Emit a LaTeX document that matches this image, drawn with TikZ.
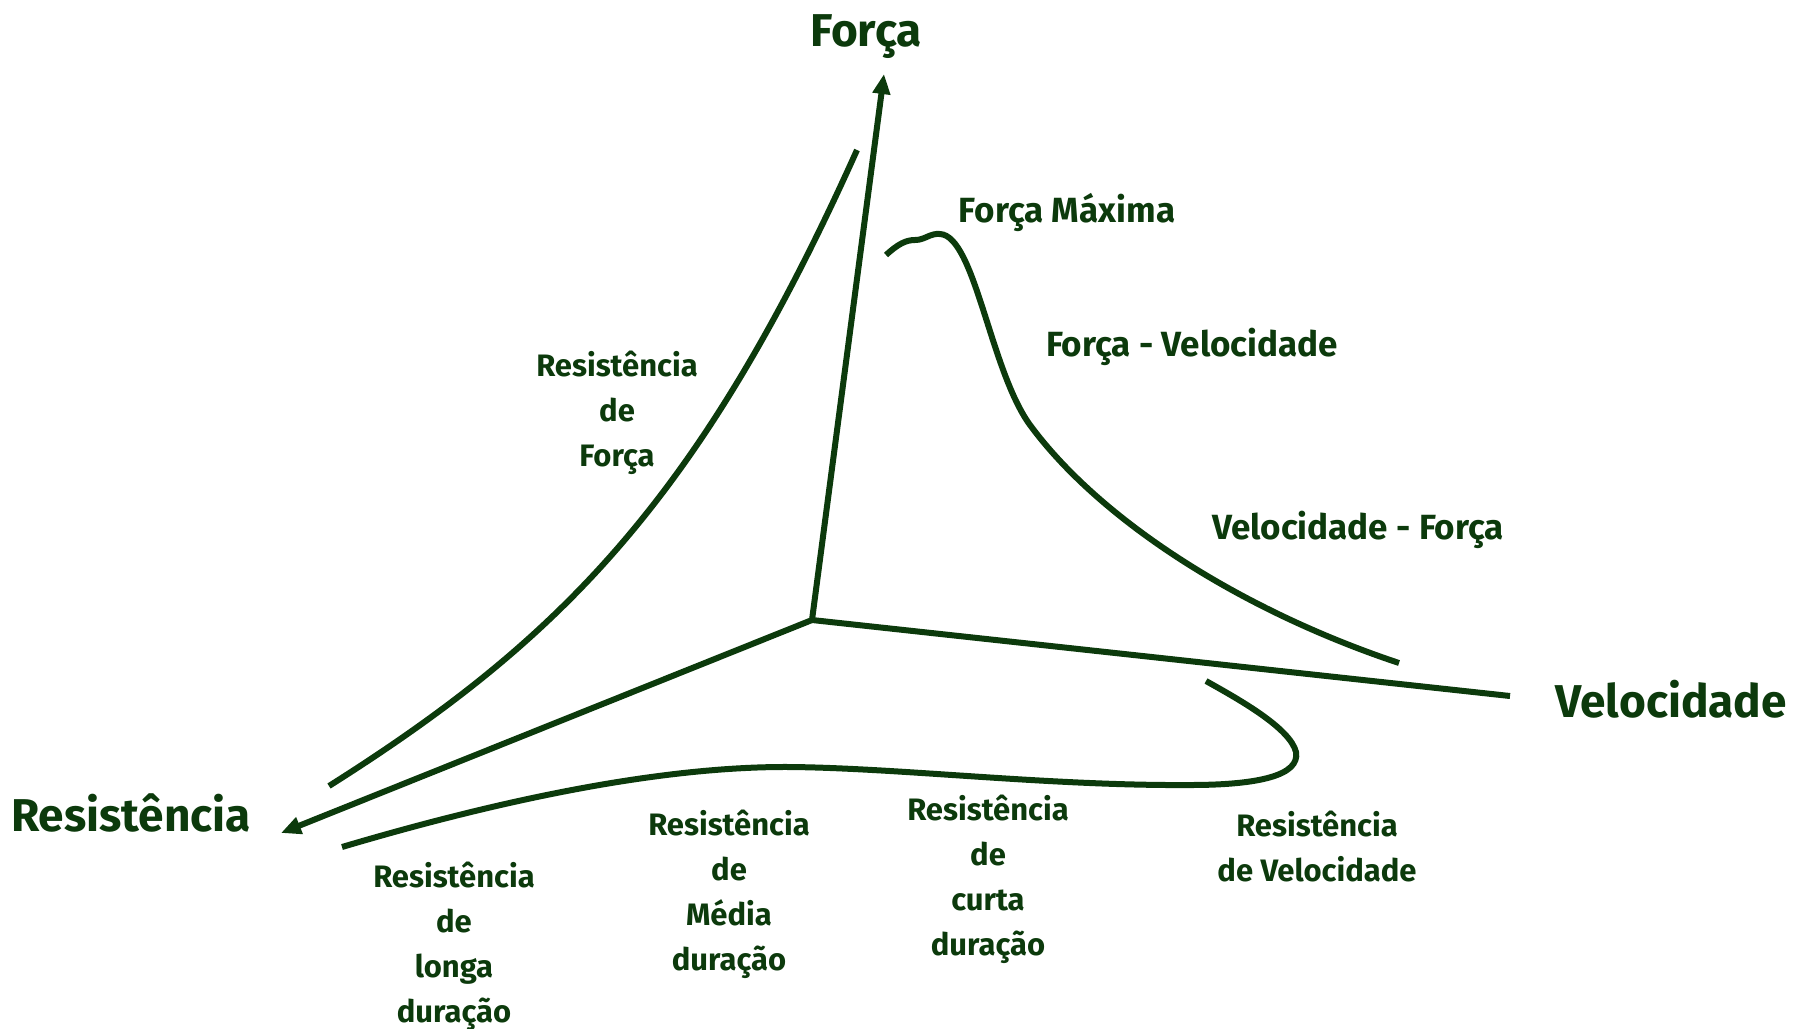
\documentclass[tikz,border=0pt]{standalone}
\usepackage{fontspec}
\setmainfont{Fira Sans}
\usetikzlibrary{arrows.meta}
\definecolor{dg}{RGB}{12,58,12}
\begin{document}
\begin{tikzpicture}[x=1pt,y=-1pt,
  curve/.style={draw=dg, line width=6pt},
  axis/.style={draw=dg, line width=6pt},
  tip/.style={-{Triangle[length=20pt,width=17pt]}},
  big/.style={font=\bfseries\fontsize{46}{54}\selectfont, text=dg, inner sep=0pt},
  lab/.style={font=\bfseries\fontsize{31}{45}\selectfont, text=dg, align=center, inner sep=0pt},
  labw/.style={lab, font=\bfseries\fontsize{35}{45}\selectfont}]
\useasboundingbox (0,0) rectangle (1806,1028);
% axes
\coordinate (O) at (812,620);
\coordinate (F) at (884,74);
\coordinate (R) at (281,833);
\coordinate (V) at (1510,696);
\draw[axis,tip] (O) -- (F);
\draw[axis,tip] (O) -- (R);
\draw[axis] (O) -- (V);
% resistencia de forca curve
\coordinate (a1) at (329,786);
\coordinate (a2) at (857,150);
\draw[curve] (a1) .. controls (560,640) and (700,500) .. (a2);
% forca curve
\coordinate (b1) at (886,255);
\coordinate (b2) at (1399,663);
\draw[curve] (b1) .. controls (898,244) and (906,240) .. (915,240)
  .. controls (925,240) and (930,233) .. (940,234)
  .. controls (975,236) and (990,370) .. (1030,425)
  .. controls (1100,520) and (1240,610) .. (b2);
% bottom curve
\coordinate (c1) at (342,847);
\coordinate (c2) at (1206,681);
\draw[curve] (c1) .. controls (460,812) and (640,766) .. (790,767)
  .. controls (900,768) and (1050,786) .. (1190,785)
  .. controls (1260,785) and (1300,775) .. (1296,752)
  .. controls (1290,728) and (1240,700) .. (c2);
% labels
\node[big] (tF) at (866,37) {Força};
\node[big] (tV) at (1671,699) {Velocidade};
\node[big] (tR) at (131,813) {Resistência};
\node[labw] (lFM) at (1067,212) {Força Máxima};
\node[labw] (lFV) at (1192,347) {Força - Velocidade};
\node[labw] (lVF) at (1358,530) {Velocidade - Força};
\node[lab] (lRF) at (617,413) {Resistência\\de\\Força};
\node[lab] (lRL) at (454,946) {Resistência\\de\\longa\\duração};
\node[lab] (lRM) at (729,894) {Resistência\\de\\Média\\duração};
\node[lab] (lRC) at (988,879) {Resistência\\de\\curta\\duração};
\node[lab] (lRV) at (1317,847) {Resistência\\de Velocidade};
\end{tikzpicture}
\end{document}
